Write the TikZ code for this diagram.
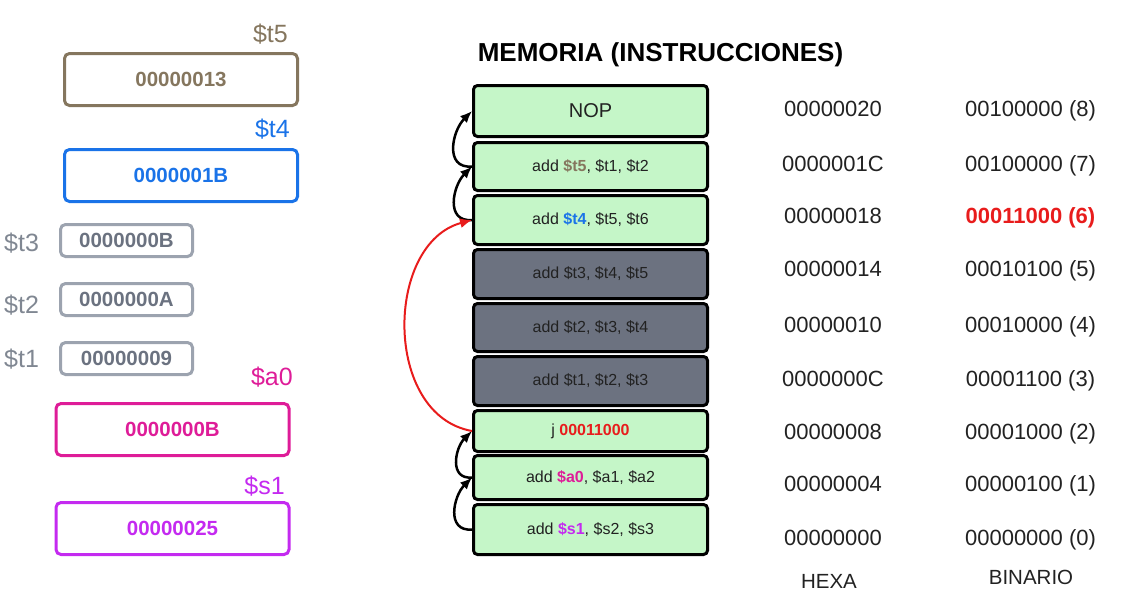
\documentclass[tikz,border=0pt]{standalone}
\usepackage{fontspec}
\setmainfont{Liberation Sans}
\usepackage{tikz}
\usetikzlibrary{arrows.meta,positioning,calc}

\definecolor{colT5}{RGB}{133,118,94}
\definecolor{colT4}{RGB}{26,115,232}
\definecolor{colA0}{RGB}{222,28,152}
\definecolor{colS1}{RGB}{196,42,240}
\definecolor{regGray}{RGB}{156,163,175}
\definecolor{regText}{RGB}{107,114,128}
\definecolor{lblGray}{RGB}{128,135,146}
\definecolor{memGreen}{RGB}{197,246,200}
\definecolor{memGray}{RGB}{108,114,128}
\definecolor{memText}{RGB}{34,34,34}
\definecolor{jmpRed}{RGB}{232,28,28}

\begin{document}
\begin{tikzpicture}[
    x=1pt, y=1pt,
    reg/.style={draw, rounded corners=5pt, line width=3pt, inner sep=0pt, font=\fontsize{20.5}{24}\selectfont\bfseries},
    regbig/.style={reg, minimum width=233pt, minimum height=52pt},
    regsmall/.style={reg, minimum width=132pt, minimum height=32pt, draw=regGray, text=regText},
    reglabel/.style={inner sep=0pt, font=\fontsize{25}{30}\selectfont},
    instr/.style={draw=black, rounded corners=4pt, line width=3pt, minimum width=234pt, inner sep=0pt, fill=memGreen, text=memText, font=\fontsize{16}{19}\selectfont},
    stalled/.style={instr, fill=memGray},
    addr/.style={inner sep=0pt, text=memText, text height=15.8pt, text depth=0pt, font=\fontsize{22}{26}\selectfont},
    colhead/.style={inner sep=0pt, text=memText, font=\fontsize{20.5}{24}\selectfont},
    seq/.style={-{Latex[length=12pt,width=10pt]}, line width=2.5pt},
    jump/.style={seq, draw=jmpRed, line width=2pt},
  ]
  \useasboundingbox (0,0) rectangle (1134,-608);

  % Registers
  \node[regbig, draw=colT5, text=colT5] (t5) at (181,-79.5)  {00000013};
  \node[regbig, draw=colT4, text=colT4] (t4) at (181,-175.5) {0000001B};
  \node[regsmall] (t3) at (126.5,-240.5) {0000000B};
  \node[regsmall] (t2) at (126.5,-299.5) {0000000A};
  \node[regsmall] (t1) at (126.5,-358.5) {00000009};
  \node[regbig, draw=colA0, text=colA0] (a0) at (172.5,-429.5) {0000000B};
  \node[regbig, draw=colS1, text=colS1] (s1) at (172.5,-528.5) {00000025};

  % Register names
  \node[reglabel, text=colT5, anchor=base east] (t5name) at (288,-42)  {\$t5};
  \node[reglabel, text=colT4, anchor=base east] (t4name) at (290,-137) {\$t4};
  \node[reglabel, text=lblGray, anchor=base west] (t3name) at (4,-251) {\$t3};
  \node[reglabel, text=lblGray, anchor=base west] (t2name) at (4,-313) {\$t2};
  \node[reglabel, text=lblGray, anchor=base west] (t1name) at (4,-367) {\$t1};
  \node[reglabel, text=colA0, anchor=base east] (a0name) at (293,-385) {\$a0};
  \node[reglabel, text=colS1, anchor=base east] (s1name) at (285,-494) {\$s1};

  % Memory
  \node[font=\fontsize{26}{31}\selectfont\bfseries, text=black, inner sep=0pt] (title) at (660.5,-55) {MEMORIA (INSTRUCCIONES)};
  \node[instr, minimum height=51pt, font=\fontsize{20}{24}\selectfont] (ins8) at (590.5,-111) {NOP};
  \node[instr, minimum height=48pt] (ins7) at (590.5,-166.5) {add \textbf{\textcolor{colT5}{\$t5}}, \$t1, \$t2};
  \node[instr, minimum height=49pt] (ins6) at (590.5,-220)   {add \textbf{\textcolor{colT4}{\$t4}}, \$t5, \$t6};
  \node[stalled, minimum height=49pt] (ins5) at (590.5,-274) {add \$t3, \$t4, \$t5};
  \node[stalled, minimum height=48pt] (ins4) at (590.5,-327.5) {add \$t2, \$t3, \$t4};
  \node[stalled, minimum height=49pt] (ins3) at (590.5,-381) {add \$t1, \$t2, \$t3};
  \node[instr, minimum height=41pt] (ins2) at (590.5,-431)   {j \textbf{\textcolor{jmpRed}{00011000}}};
  \node[instr, minimum height=44pt] (ins1) at (590.5,-477.5) {add \textbf{\textcolor{colA0}{\$a0}}, \$a1, \$a2};
  \node[instr, minimum height=50pt] (ins0) at (590.5,-529.5) {add \textbf{\textcolor{colS1}{\$s1}}, \$s2, \$s3};

  % Addresses
  \node[addr] (hex8) at (833,-108.5) {00000020};
  \node[addr] (hex7) at (833,-164)   {0000001C};
  \node[addr] (hex6) at (833,-216)   {00000018};
  \node[addr] (hex5) at (833,-269)   {00000014};
  \node[addr] (hex4) at (833,-325)   {00000010};
  \node[addr] (hex3) at (833,-379)   {0000000C};
  \node[addr] (hex2) at (833,-432)   {00000008};
  \node[addr] (hex1) at (833,-484)   {00000004};
  \node[addr] (hex0) at (833,-538)   {00000000};
  \node[addr] (bin8) at (1030.5,-108.5) {00100000 (8)};
  \node[addr] (bin7) at (1030.5,-164)   {00100000 (7)};
  \node[addr, text=jmpRed, font=\fontsize{22}{26}\selectfont\bfseries] (bin6) at (1030.5,-216) {00011000 (6)};
  \node[addr] (bin5) at (1030.5,-269)   {00010100 (5)};
  \node[addr] (bin4) at (1030.5,-325)   {00010000 (4)};
  \node[addr] (bin3) at (1030.5,-379)   {00001100 (3)};
  \node[addr] (bin2) at (1030.5,-432)   {00001000 (2)};
  \node[addr] (bin1) at (1030.5,-484)   {00000100 (1)};
  \node[addr] (bin0) at (1030.5,-538)   {00000000 (0)};
  \node[colhead] (hexhead) at (829,-581)  {HEXA};
  \node[colhead] (binhead) at (1031,-577) {BINARIO};

  % Flow
  \draw[seq] (ins7.west) to[out=185,in=225,looseness=1.3] (ins8.west);
  \draw[seq] (ins6.west) to[out=185,in=225,looseness=1.3] (ins7.west);
  \draw[seq] (ins0.west) to[out=185,in=225,looseness=1.3] (ins1.west);
  \draw[seq] (ins1.west) to[out=185,in=225,looseness=1.3] (ins2.west);
  \draw[jump] (ins2.west) to[out=170,in=195,looseness=1.1] (ins6.west);
\end{tikzpicture}
\end{document}
